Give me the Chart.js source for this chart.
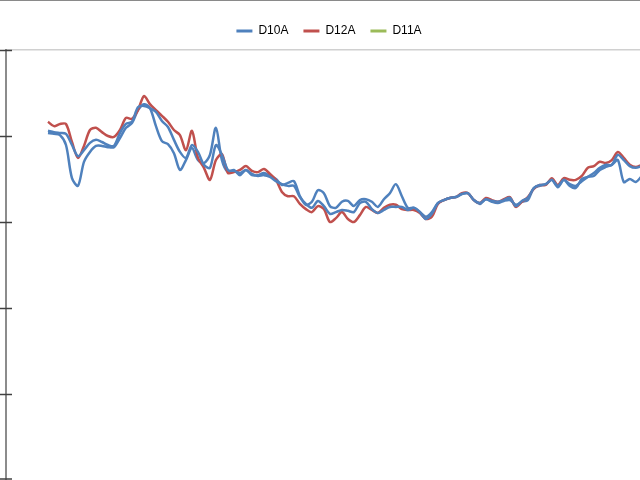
<!DOCTYPE html>
<html>
<head>
<meta charset="utf-8">
<script src="https://cdn.jsdelivr.net/npm/chart.js@4.4.1/dist/chart.umd.min.js"></script>
<style>
  html, body { margin: 0; padding: 0; background: #fff; }
  #wrap { width: 640px; height: 480px; }
</style>
</head>
<body>
<div id="wrap"><canvas id="myChart" width="640" height="480"></canvas></div>
<script>
// series (left part of the time axis, no tick labels visible)
const seriesNames = ["D10A", "D12A", "D11A"];
const lineColors = ["#4F81BD", "#C0504D", "#4F81BD"];
const legendColors = ["#4F81BD", "#C0504D", "#9BBB59"];
const yTicks = [0, 20, 40, 60, 80, 100];

const d10a = [
  81.2, 80.9, 80.7, 80.5, 77.9, 75.3, 76.7, 78.4, 79.1, 78.6,
  77.9, 77.7, 80.7, 82.8, 83.3, 86.7, 87.0, 86.5, 85.6, 83.5,
  82.1, 79.1, 76.3, 74.9, 77.9, 76.3, 73.3, 72.6, 77.9, 75.6,
  72.1, 71.9, 71.4, 72.1, 71.2, 70.7, 70.9, 70.5, 69.5, 68.8,
  68.4, 68.4, 65.8, 64.2, 63.3, 64.9, 63.7, 61.9, 62.3, 62.8,
  62.6, 62.3, 64.4, 64.7, 63.0, 62.1, 62.8, 63.5, 63.5, 63.5,
  62.8, 63.3, 62.3, 60.7, 61.9, 64.4, 65.1, 65.6, 65.8, 66.5,
  66.7, 65.1, 64.4, 65.3, 64.9, 64.7, 65.1, 65.6, 63.7, 64.9,
  65.6, 67.9, 68.6, 68.8, 69.8, 68.4, 69.8, 68.8, 68.4, 69.5,
  70.5, 71.4, 72.6, 73.3, 73.3, 75.6, 74.4, 73.0, 72.6, 73.0
];
const d12a = [
  83.3, 82.3, 82.8, 82.8, 78.6, 74.9, 77.7, 81.4, 81.9, 80.9,
  80.0, 79.8, 81.4, 84.2, 84.0, 86.0, 89.3, 87.4, 86.0, 84.7,
  83.3, 81.4, 80.2, 76.7, 81.2, 74.9, 72.6, 69.8, 74.4, 75.8,
  71.4, 71.6, 72.1, 73.0, 71.9, 71.6, 72.3, 71.2, 69.8, 67.0,
  66.0, 66.0, 64.2, 63.0, 62.3, 63.7, 63.0, 60.0, 60.9, 62.3,
  60.7, 60.0, 61.6, 63.5, 62.8, 62.1, 63.3, 64.0, 64.0, 63.0,
  62.8, 62.8, 62.1, 60.7, 61.2, 64.2, 65.1, 65.6, 65.8, 66.7,
  66.7, 65.1, 64.4, 65.6, 65.1, 64.7, 65.3, 65.8, 63.5, 64.7,
  65.8, 67.7, 68.6, 68.6, 70.2, 68.6, 70.2, 69.8, 69.8, 70.7,
  72.6, 73.0, 74.0, 73.7, 74.4, 76.3, 74.9, 73.3, 72.8, 73.3
];
const d11a = [
  80.7, 80.5, 80.2, 77.9, 70.2, 68.4, 74.0, 76.3, 77.7, 77.7,
  77.4, 77.4, 79.5, 81.9, 83.0, 86.0, 87.4, 86.5, 82.3, 78.8,
  78.1, 76.0, 72.1, 74.4, 77.2, 74.4, 73.7, 75.6, 81.9, 74.4,
  71.6, 72.1, 70.9, 72.1, 70.9, 70.9, 71.4, 70.7, 70.0, 68.6,
  69.1, 69.5, 66.0, 64.0, 64.7, 67.4, 66.7, 63.7, 63.3, 64.7,
  64.9, 63.7, 65.1, 65.3, 64.7, 63.5, 65.3, 66.7, 68.8, 66.0,
  63.3, 63.3, 62.3, 61.2, 62.3, 64.4, 65.1, 65.6, 65.8, 66.5,
  66.7, 65.1, 64.2, 65.3, 64.7, 64.4, 64.9, 65.1, 64.0, 64.7,
  65.1, 67.9, 68.4, 68.8, 69.8, 68.1, 69.8, 68.4, 67.9, 70.0,
  70.5, 70.7, 72.1, 72.8, 73.3, 74.4, 69.3, 70.0, 69.3, 70.7
];
const samples = d10a.map((v, i) => i);

const seriesValues = [d10a, d12a, d11a];

// excel-ish frame: top border, crossing tick marks, legend height fixed
const frame = {
  id: "frame",
  beforeLayout(chart) {
    const legend = chart.legend;
    if (legend && !legend._patched) {
      const fit = legend.fit;
      legend.fit = function () { fit.call(this); this.height = 40; };
      legend._patched = true;
    }
  },
  afterLayout(chart) {
    chart.legend.left += 6;
    chart.legend.right += 6;
  },
  afterDraw(chart) {
    const ctx = chart.ctx;
    const y = chart.scales.y;
    ctx.save();
    ctx.fillStyle = "#8a8a8a";
    ctx.fillRect(0, 0, chart.width, 1);
    ctx.strokeStyle = "#404040";
    ctx.lineWidth = 1.5;
    y.ticks.forEach((t) => {
      const py = Math.min(Math.round(y.getPixelForValue(t.value)) + 0.5, chart.height - 1);
      ctx.beginPath();
      ctx.moveTo(0, py);
      ctx.lineTo(12, py);
      ctx.stroke();
    });
    ctx.restore();
  },
};

new Chart("myChart", {
  type: "line",
  data: {
    datasets: seriesNames.map((name, i) => ({
      label: name,
      data: seriesValues[i].map((v, k) => ({ x: samples[k], y: v })),
      borderColor: lineColors[i],
      backgroundColor: lineColors[i],
      borderWidth: 2.5,
      pointRadius: 0,
      tension: 0.3,
      fill: false,
    })),
  },
  options: {
    responsive: false,
    animation: false,
    devicePixelRatio: 1,
    layout: { padding: { top: 10, left: 6, right: 0, bottom: 0 } },
    plugins: {
      tooltip: { enabled: false },
      legend: {
        position: "top",
        labels: {
          boxWidth: 16,
          boxHeight: 3,
          padding: 15,
          color: "#404040",
          font: { family: "'Liberation Sans', Arial, sans-serif", size: 12 },
          generateLabels: (chart) =>
            chart.data.datasets.map((ds, i) => ({
              text: ds.label,
              fillStyle: legendColors[i],
              strokeStyle: legendColors[i],
              lineWidth: 0,
              hidden: false,
              datasetIndex: i,
            })),
        },
      },
    },
    scales: {
      x: { type: "linear", min: -7, max: 98.7, display: false },
      y: {
        min: yTicks[0],
        max: yTicks[yTicks.length - 1],
        afterBuildTicks: (scale) => { scale.ticks = yTicks.map((v) => ({ value: v })); },
        ticks: { display: false },
        grid: {
          drawTicks: false,
          color: (c) => (c.tick && c.tick.value === yTicks[yTicks.length - 1] ? "#d0d0d0" : "transparent"),
          lineWidth: 1.5,
        },
        border: { display: true, color: "#8c8c8c", width: 2 },
      },
    },
  },
  plugins: [frame],
});
</script>
</body>
</html>
